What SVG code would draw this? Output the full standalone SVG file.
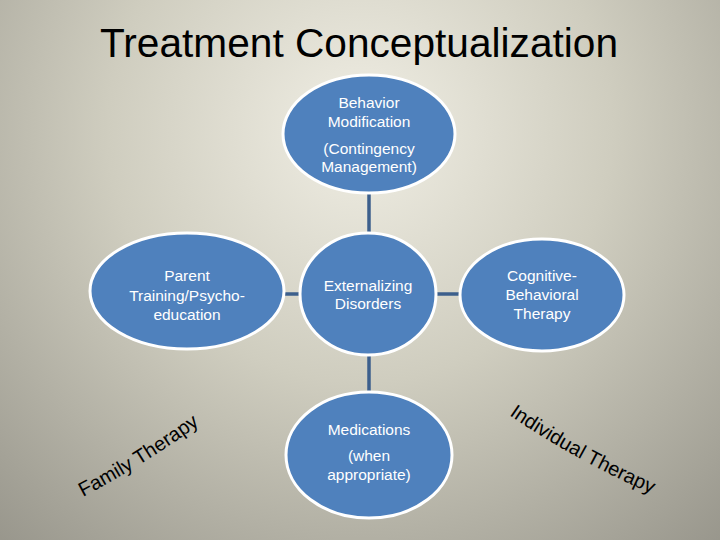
<svg xmlns="http://www.w3.org/2000/svg" width="720" height="540" viewBox="0 0 720 540">
<defs>
<radialGradient id="bg" gradientUnits="userSpaceOnUse" cx="360" cy="130" r="560">
<stop offset="0" stop-color="#f0eee4"/>
<stop offset="0.45" stop-color="#cfcdbf"/>
<stop offset="1" stop-color="#96948a"/>
</radialGradient>
<path id="famPath" d="M83,497 Q147,463 200,424"/>
<path id="indPath" d="M509,415 Q575,460 652,494"/>
</defs>
<style>
.node{fill:#4f81bd;stroke:#ffffff;stroke-width:3}
.lbl{font-family:"Liberation Sans",Arial,sans-serif;font-size:15.5px;fill:#ffffff;text-anchor:middle}
.conn{stroke:#3c5f8c;stroke-width:3.5;fill:none}
.curve{font-family:"Liberation Sans",Arial,sans-serif;font-size:20px;fill:#000000}
</style>
<rect x="0" y="0" width="720" height="540" fill="url(#bg)"/>
<text x="359" y="57" font-family="'Liberation Sans',Arial,sans-serif" font-size="40" fill="#000000" text-anchor="middle" textLength="518" lengthAdjust="spacingAndGlyphs">Treatment Conceptualization</text>
<g id="connectors">
<line class="conn" x1="369" y1="192" x2="369" y2="234"/>
<line class="conn" x1="369" y1="354" x2="369" y2="392"/>
<line class="conn" x1="284" y1="294" x2="301" y2="294"/>
<line class="conn" x1="436" y1="294" x2="461" y2="294"/>
</g>
<g id="behavior">
<ellipse class="node" cx="369" cy="134" rx="86" ry="59"/>
<text class="lbl" x="369" y="108">Behavior</text>
<text class="lbl" x="369" y="127">Modification</text>
<text class="lbl" x="369" y="154">(Contingency</text>
<text class="lbl" x="369" y="172">Management)</text>
</g>
<g id="parent">
<ellipse class="node" cx="187" cy="291" rx="97" ry="58"/>
<text class="lbl" x="187" y="281">Parent</text>
<text class="lbl" x="187" y="301">Training/Psycho-</text>
<text class="lbl" x="187" y="320">education</text>
</g>
<g id="externalizing">
<ellipse class="node" cx="368" cy="294" rx="68" ry="61"/>
<text class="lbl" x="368" y="291">Externalizing</text>
<text class="lbl" x="368" y="309">Disorders</text>
</g>
<g id="cbt">
<ellipse class="node" cx="542" cy="295" rx="82" ry="56"/>
<text class="lbl" x="542" y="281">Cognitive-</text>
<text class="lbl" x="542" y="300">Behavioral</text>
<text class="lbl" x="542" y="319">Therapy</text>
</g>
<g id="medications">
<ellipse class="node" cx="369" cy="455" rx="83" ry="63"/>
<text class="lbl" x="369" y="435">Medications</text>
<text class="lbl" x="369" y="461">(when</text>
<text class="lbl" x="369" y="480">appropriate)</text>
</g>
<text class="curve"><textPath href="#famPath">Family Therapy</textPath></text>
<text class="curve"><textPath href="#indPath">Individual Therapy</textPath></text>
</svg>
